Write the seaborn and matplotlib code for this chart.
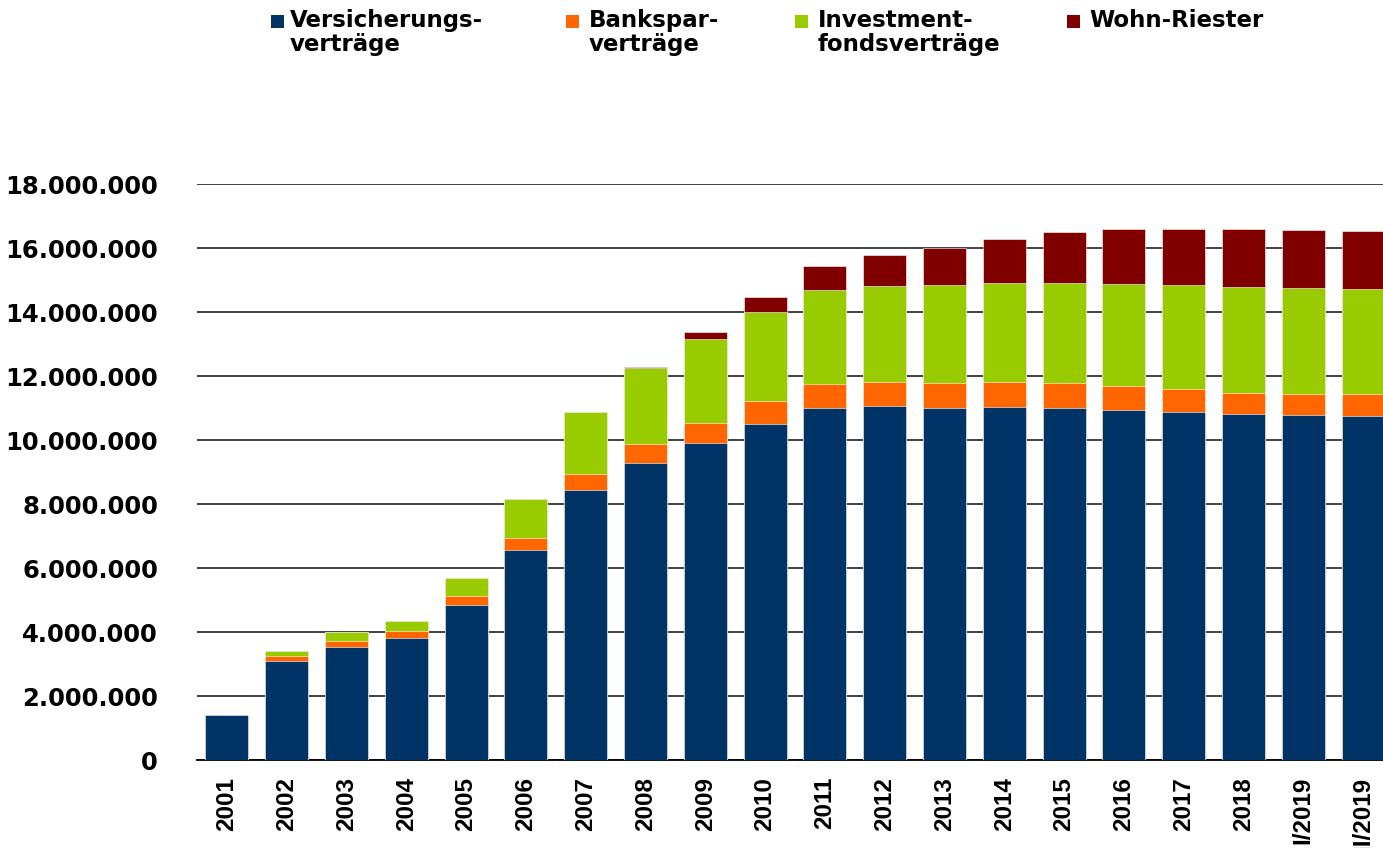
import matplotlib
matplotlib.use("Agg")
import matplotlib.pyplot as plt
import matplotlib.ticker as mticker
from matplotlib.patches import Rectangle
import seaborn as sns
import pandas as pd
import numpy as np

# Riester-Verträge nach Vertragsart
jahre = ["2001", "2002", "2003", "2004", "2005", "2006", "2007", "2008", "2009", "2010",
         "2011", "2012", "2013", "2014", "2015", "2016", "2017", "2018", "I/2019", "II/2019"]
versicherung = [1400000, 3100000, 3530000, 3810000, 4850000, 6570000, 8450000, 9290000, 9920000, 10490000,
                11010000, 11060000, 11010000, 11030000, 11010000, 10950000, 10880000, 10820000, 10790000, 10760000]
banksparen = [0, 140000, 200000, 220000, 260000, 360000, 490000, 570000, 620000, 730000,
              750000, 760000, 780000, 790000, 780000, 750000, 720000, 660000, 660000, 670000]
investment = [0, 170000, 270000, 300000, 580000, 1230000, 1930000, 2390000, 2620000, 2770000,
              2930000, 3000000, 3060000, 3100000, 3130000, 3180000, 3240000, 3310000, 3290000, 3280000]
wohn_riester = [0, 0, 0, 0, 0, 0, 0, 30000, 220000, 470000,
                750000, 960000, 1160000, 1370000, 1570000, 1700000, 1760000, 1790000, 1810000, 1810000]

labels = ["Versicherungs-\nverträge", "Bankspar-\nverträge", "Investment-\nfondsverträge", "Wohn-Riester"]
colors = ["#003366", "#ff6600", "#99cc00", "#800000"]

df = pd.DataFrame({"jahr": jahre, "Versicherung": versicherung, "Bankspar": banksparen,
                   "Investment": investment, "Wohn": wohn_riester})
series = ["Versicherung", "Bankspar", "Investment", "Wohn"]
cum = df[series].cumsum(axis=1)

sns.set_style("white")
plt.rcParams["font.family"] = ["DejaVu Sans"]
plt.rcParams["font.weight"] = "bold"
plt.rcParams["text.color"] = "black"
plt.rcParams["xtick.color"] = "black"
plt.rcParams["ytick.color"] = "black"

W, H = 1383, 848
fig = plt.figure(figsize=(W / 100, H / 100), dpi=100)
ax = fig.add_axes([197 / W, 1 - 760 / H, 1196 / W, 576 / H])

# stacked bars: draw cumulative totals from the top layer down
for s, c in zip(series[::-1], colors[::-1]):
    sns.barplot(x=df["jahr"], y=cum[s], color=c, saturation=1, width=0.72, ax=ax,
                edgecolor="white", linewidth=0.4, zorder=3)

ax.set_ylim(0, 18000000)
ax.set_xlim(-0.5, 19.5)
ax.yaxis.set_major_locator(mticker.MultipleLocator(2000000))
ax.yaxis.set_major_formatter(mticker.FuncFormatter(lambda v, p: f"{int(v):,}".replace(",", ".")))
ax.yaxis.grid(True, color="#222222", linewidth=1.2, zorder=0)
ax.set_axisbelow(True)

for side in ["left", "top", "right"]:
    ax.spines[side].set_visible(False)
ax.spines["bottom"].set_color("black")
ax.spines["bottom"].set_linewidth(1.3)

ax.set_xlabel("")
ax.set_ylabel("")
ax.set_xticks(np.arange(-0.5, 20, 1), minor=True)
ax.tick_params(axis="x", which="major", length=0, pad=12)
ax.tick_params(axis="x", which="minor", length=6, width=1, color="black", direction="out")
ax.tick_params(axis="y", length=0, pad=28)

for t in ax.get_yticklabels():
    t.set_fontsize(17.5)
    t.set_fontweight("bold")
ax.set_xticks(range(len(jahre)))
ax.set_xticklabels(jahre, rotation=90, fontsize=17.5, fontweight="bold",
                   family=["Liberation Sans", "DejaVu Sans"], va="top", ha="center")

# legend across the top
marker_x = [271, 566, 795, 1067]
text_x = [290, 589, 818, 1089]
for mx, tx, lab, c in zip(marker_x, text_x, labels, colors):
    fig.patches.append(Rectangle((mx / W, 1 - 28 / H), 13 / W, 13 / H, transform=fig.transFigure,
                                 facecolor=c, edgecolor="none"))
    fig.text(tx / W, 1 - 9 / H, lab, fontsize=16.5, fontweight="bold", ha="left", va="top",
             linespacing=1.05)

fig.savefig("out.png", dpi=100)
